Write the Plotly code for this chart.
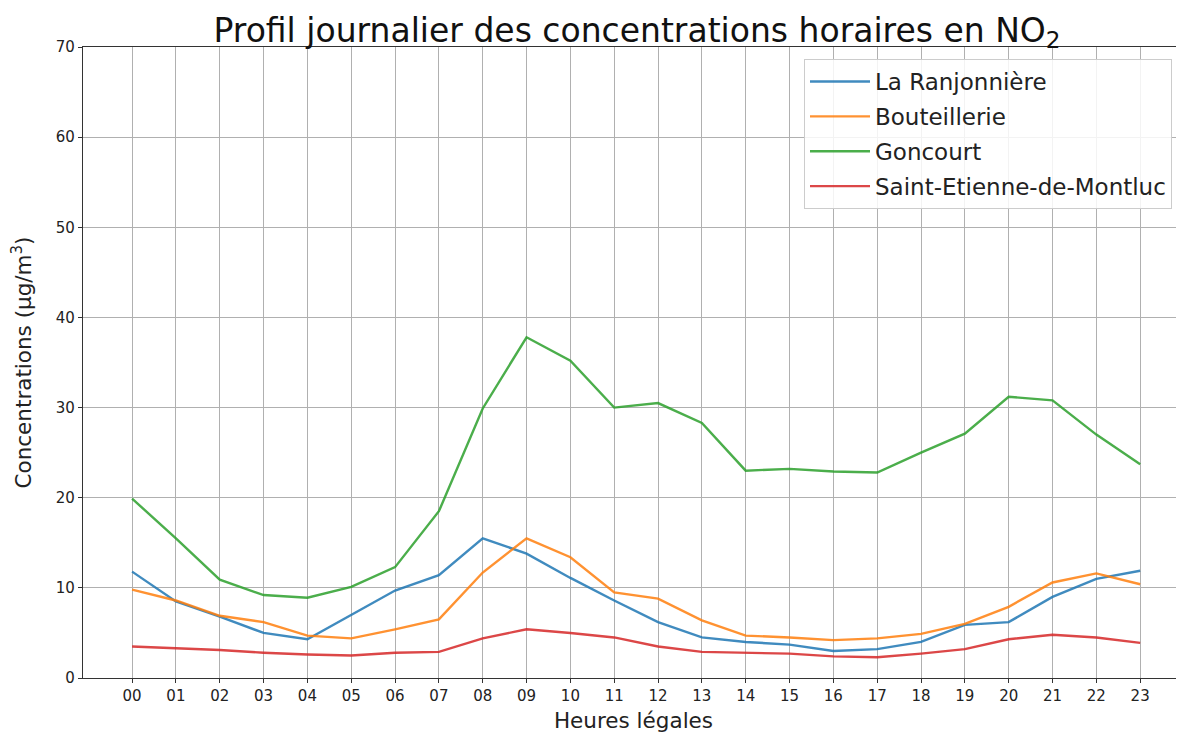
import plotly.graph_objects as go

hours = [f"{h:02d}" for h in range(24)]

ranjonniere = [11.8, 8.5, 6.8, 5.0, 4.3, 7.0, 9.7, 11.4, 15.5, 13.8, 11.1, 8.6,
               6.2, 4.5, 4.0, 3.7, 3.0, 3.2, 4.0, 5.9, 6.2, 9.0, 11.0, 11.9]
bouteillerie = [9.8, 8.6, 6.9, 6.2, 4.7, 4.4, 5.4, 6.5, 11.7, 15.5, 13.4, 9.5,
                8.8, 6.4, 4.7, 4.5, 4.2, 4.4, 4.9, 6.0, 7.9, 10.6, 11.6, 10.4]
goncourt = [19.9, 15.5, 10.9, 9.2, 8.9, 10.1, 12.3, 18.5, 29.9, 37.8, 35.2, 30.0,
            30.5, 28.3, 23.0, 23.2, 22.9, 22.8, 25.0, 27.1, 31.2, 30.8, 27.0, 23.7]
saint_etienne = [3.5, 3.3, 3.1, 2.8, 2.6, 2.5, 2.8, 2.9, 4.4, 5.4, 5.0, 4.5,
                 3.5, 2.9, 2.8, 2.7, 2.4, 2.3, 2.7, 3.2, 4.3, 4.8, 4.5, 3.9]

series = [
    ("La Ranjonnière", ranjonniere, "#1f77b4"),
    ("Bouteillerie", bouteillerie, "#ff7f0e"),
    ("Goncourt", goncourt, "#2ca02c"),
    ("Saint-Etienne-de-Montluc", saint_etienne, "#d62728"),
]

x_idx = list(range(len(hours)))

fig = go.Figure()
for i, (name, vals, color) in enumerate(series):
    fig.add_trace(go.Scatter(x=x_idx, y=vals, mode="lines", name=name,
                             legendgroup=f"g{i}", opacity=0.85,
                             line=dict(color=color, width=2.4)))

# page body has an 8px margin: figure occupies 8..1184 x 8..733
W, H = 1176, 725
L, T, B = 75, 39, 55
plot_w = W - L
plot_h = H - T - B

font_family = "DejaVu Sans"
fig.update_layout(
    width=W, height=H,
    margin=dict(l=L, r=0, t=T, b=B, autoexpand=False),
    paper_bgcolor="white", plot_bgcolor="white",
    font=dict(family=font_family, color="#222222"),
    title=dict(text="Profil journalier des concentrations horaires en NO<sub>2</sub>",
               x=(637 - 8) / W, xanchor="center", y=1 - 22 / H, yanchor="middle",
               font=dict(size=33, color="#111111")),
    legend=dict(x=(804 - 83) / plot_w, y=1 - (59 - 47) / plot_h, xanchor="left", yanchor="top",
                bgcolor="rgba(255,255,255,0.85)", bordercolor="#cccccc", borderwidth=1,
                font=dict(size=23, color="#222222"), tracegroupgap=2,
                itemwidth=60),
    showlegend=True,
)
fig.update_xaxes(
    range=[-1.12, 24.0], tickmode="array", tickvals=x_idx, ticktext=hours,
    showgrid=True, gridcolor="#b0b0b0", gridwidth=1,
    showline=True, linecolor="#333333", linewidth=1.2, mirror=True,
    ticks="outside", ticklen=4, tickcolor="#333333",
    tickfont=dict(size=15, color="#222222"), zeroline=False, automargin=False,
    title=dict(text="Heures légales", font=dict(size=21.5, color="#222222"), standoff=10),
)
fig.update_yaxes(
    range=[0, 70], tickvals=[0, 10, 20, 30, 40, 50, 60, 70],
    showgrid=True, gridcolor="#b0b0b0", gridwidth=1,
    showline=True, linecolor="#333333", linewidth=1.2,
    ticks="outside", ticklen=4, tickcolor="#333333",
    tickfont=dict(size=15, color="#222222"), zeroline=False, automargin=False,
    title=dict(text="Concentrations (µg/m<sup>3</sup>)", font=dict(size=21.5, color="#222222"), standoff=20),
)

fig.write_html("out.html")
